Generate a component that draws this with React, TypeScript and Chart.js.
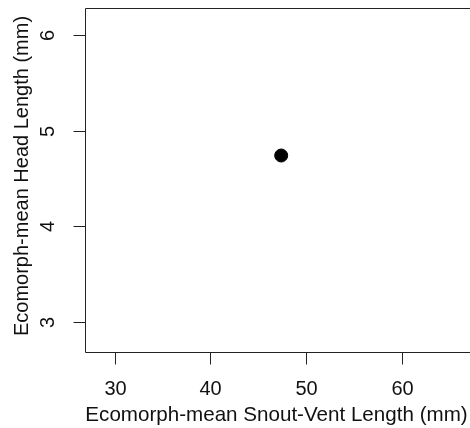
import React, { useEffect, useRef } from "react";
import { Chart, registerables } from "chart.js";

Chart.register(...registerables);

// Data
const svlMeans: number[] = [47.4];
const headMeans: number[] = [4.74];
const xTicks: number[] = [30, 40, 50, 60];
const yTicks: number[] = [3, 4, 5, 6];
const xTitle = "Ecomorph-mean Snout-Vent Length (mm)";
const yTitle = "Ecomorph-mean Head Length (mm)";

const X_MIN = 26.86;
const X_MAX = 67.17;
const Y_MIN = 2.686;
const Y_MAX = 6.282;

const FONT = "20px 'Liberation Sans', Arial, sans-serif";
const XTITLE_FONT = "20.6px 'Liberation Sans', Arial, sans-serif";

const rAxes = {
  id: "rAxes",
  afterDraw(chart: any) {
    const ctx = chart.ctx as CanvasRenderingContext2D;
    const xs = chart.scales.x;
    const ys = chart.scales.y;
    const { left, top, bottom } = chart.chartArea;
    const W = chart.width;
    ctx.save();
    ctx.strokeStyle = "#222";
    ctx.lineWidth = 1;
    // box (right side is off-canvas)
    ctx.beginPath();
    ctx.moveTo(W + 5, Math.round(top) + 0.5);
    ctx.lineTo(Math.round(left) + 0.5, Math.round(top) + 0.5);
    ctx.lineTo(Math.round(left) + 0.5, Math.round(bottom) + 0.5);
    ctx.lineTo(W + 5, Math.round(bottom) + 0.5);
    ctx.stroke();
    // x ticks
    ctx.fillStyle = "#111";
    ctx.font = FONT;
    ctx.textAlign = "center";
    ctx.textBaseline = "middle";
    for (const t of xTicks) {
      const px = Math.round(xs.getPixelForValue(t)) + 0.5;
      ctx.beginPath();
      ctx.moveTo(px, Math.round(bottom) + 0.5);
      ctx.lineTo(px, Math.round(bottom) + 12.5);
      ctx.stroke();
      ctx.fillText(String(t), px, bottom + 37);
    }
    // y ticks
    for (const t of yTicks) {
      const py = Math.round(ys.getPixelForValue(t)) + 0.5;
      ctx.beginPath();
      ctx.moveTo(Math.round(left) + 0.5, py);
      ctx.lineTo(Math.round(left) - 11.5, py);
      ctx.stroke();
      ctx.save();
      ctx.translate(left - 37, py);
      ctx.rotate(-Math.PI / 2);
      ctx.fillText(String(t), 0, 0);
      ctx.restore();
    }
    // y title
    ctx.save();
    ctx.translate(left - 63, (top + bottom) / 2 - 4);
    ctx.rotate(-Math.PI / 2);
    ctx.fillText(yTitle, 0, 0);
    ctx.restore();
    // x title
    ctx.font = XTITLE_FONT;
    ctx.fillText(xTitle, left + 191.5, bottom + 63);
    ctx.restore();
  },
};

export default function App() {
  const ref = useRef<HTMLCanvasElement | null>(null);
  useEffect(() => {
    if (!ref.current) return;
    const chart = new Chart(ref.current, {
      type: "scatter",
      data: {
        datasets: [
          {
            data: svlMeans.map((x, i) => ({ x, y: headMeans[i] })),
            backgroundColor: "#000",
            borderColor: "#000",
            pointRadius: 6.5,
            pointHoverRadius: 6.5,
          },
        ],
      },
      options: {
        animation: false,
        responsive: false,
        events: [],
        layout: { autoPadding: false, padding: { left: 85, right: 0, top: 8, bottom: 76 } },
        plugins: { legend: { display: false }, tooltip: { enabled: false } },
        scales: {
          x: { type: "linear", display: false, min: X_MIN, max: X_MAX },
          y: { type: "linear", display: false, min: Y_MIN, max: Y_MAX },
        },
      },
      plugins: [rAxes],
    });
    return () => chart.destroy();
  }, []);
  return (
    <div style={{ position: "fixed", left: 0, top: 0, width: 470, height: 428, background: "#fff" }}>
      <canvas ref={ref} width={470} height={428} style={{ display: "block" }} />
    </div>
  );
}
